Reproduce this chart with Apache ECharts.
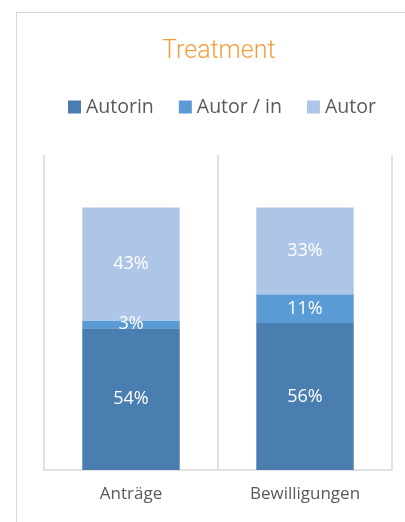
<!DOCTYPE html>
<html>
<head>
    <meta charset="utf-8">
    <title>Treatment</title>
    <script src="https://cdn.jsdelivr.net/npm/echarts@6/dist/echarts.min.js"></script>
    <style>
        html, body { margin: 0; padding: 0; background: #fff; overflow: hidden; }
        .frame {
            position: absolute; left: 16px; top: 12px;
            width: 420px; height: 540px;
            border: 1px solid #d9d9d9;
        }
        #chart { position: absolute; left: 0; top: 0; width: 405px; height: 522px; }
    </style>
</head>
<body>
    <div class="frame"></div>
    <div id="chart"></div>
    <script>
        // Daten (Prozent)
        const categories = ['Anträge', 'Bewilligungen'];
        const autorin = [54, 56];
        const autorIn = [3, 11];
        const autor = [43, 33];

        const font = '"Open Sans", sans-serif';
        const label = {
            show: true,
            position: 'inside',
            color: '#fff',
            fontSize: 18,
            fontFamily: font,
            formatter: p => p.value + '%'
        };

        const chart = echarts.init(document.getElementById('chart'));
        chart.setOption({
            animation: false,
            title: {
                text: 'Treatment',
                left: 157,
                top: 34,
                textStyle: { color: '#f59d3d', fontSize: 25, fontWeight: 300, fontFamily: 'Roboto, sans-serif' }
            },
            legend: {
                top: 97,
                left: 68,
                padding: 0,
                itemWidth: 13,
                itemHeight: 13,
                itemGap: 25,
                icon: 'rect',
                textStyle: { color: '#595959', fontSize: 19.5, fontFamily: font },
                data: ['Autorin', 'Autor / in', 'Autor']
            },
            grid: { left: 44, right: 13, top: 155, bottom: 52 },
            xAxis: {
                type: 'category',
                data: categories,
                axisLine: { lineStyle: { color: '#d9d9d9', width: 1.5 } },
                axisTick: { show: false },
                splitLine: { show: true, lineStyle: { color: '#d9d9d9', width: 1.5 } },
                axisLabel: { color: '#595959', fontSize: 17, fontFamily: font, margin: 16 }
            },
            yAxis: { type: 'value', min: 0, max: 120, show: false },
            series: [
                { name: 'Autorin', type: 'bar', stack: 't', data: autorin, barCategoryGap: '44%',
                  itemStyle: { color: '#4a7db0' }, label },
                { name: 'Autor / in', type: 'bar', stack: 't', data: autorIn,
                  itemStyle: { color: '#5b9bd5' }, label },
                { name: 'Autor', type: 'bar', stack: 't', data: autor,
                  itemStyle: { color: '#adc5e6' }, label }
            ]
        });
    </script>
</body>
</html>
